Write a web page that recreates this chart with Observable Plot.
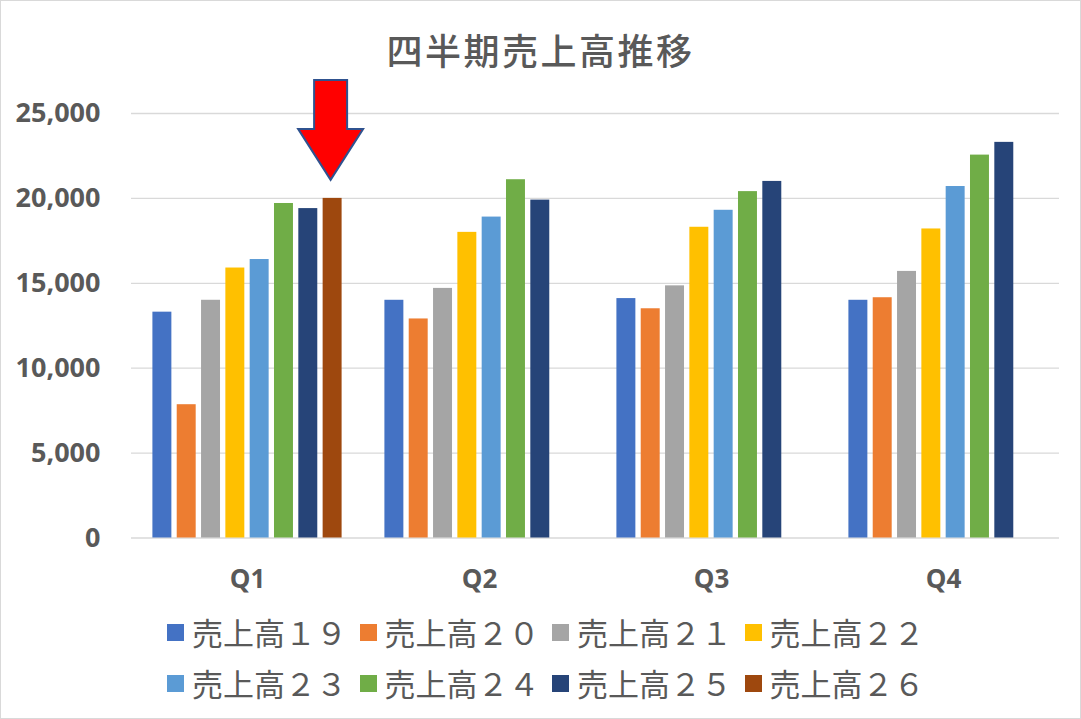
<!DOCTYPE html>
<html>
<head>
<meta charset="utf-8">
<script src="https://cdn.jsdelivr.net/npm/d3@7"></script>
<script src="https://cdn.jsdelivr.net/npm/@observablehq/plot@0.6"></script>
<style>
  html, body { margin: 0; padding: 0; background: #fff; }
  #wrap { position: relative; width: 1081px; height: 719px; background: #fff; overflow: hidden; }
  #frame { position: absolute; left: 0; top: 0; width: 1079px; height: 717px; border: 1px solid #d9d9d9; pointer-events: none; }
  #title { position: absolute; left: 0; top: 28px; width: 1081px; text-align: center;
           font-family: "Noto Sans CJK JP", sans-serif; font-size: 36px; line-height: 42px;
           color: #595959; letter-spacing: 2.5px; font-weight: 500; }
  #chart { position: absolute; left: 0; top: 70px; }
  .leg { position: absolute; display: flex; align-items: center; height: 40px;
         font-family: "Noto Sans CJK JP", sans-serif; font-size: 31px; line-height: 40px; color: #595959; white-space: nowrap; }
  .sw { width: 17px; height: 17px; margin-right: 8px; flex: none; }
</style>
</head>
<body>
<div id="wrap">
  <div id="title"></div>
  <div id="chart"></div>
  <div id="legend"></div>
  <div id="frame"></div>
</div>
<script>
const titleText = "四半期売上高推移";
const quarters = ["Q1", "Q2", "Q3", "Q4"];
const seriesNames = ["売上高１９", "売上高２０", "売上高２１", "売上高２２", "売上高２３", "売上高２４", "売上高２５", "売上高２６"];
const sales19 = [13300, 14000, 14100, 14000];
const sales20 = [7850, 12900, 13500, 14150];
const sales21 = [14000, 14700, 14850, 15700];
const sales22 = [15900, 18000, 18300, 18200];
const sales23 = [16400, 18900, 19300, 20700];
const sales24 = [19700, 21100, 20400, 22550];
const sales25 = [19400, 19900, 21000, 23300];
const sales26 = [20000, null, null, null];
const yTicks = [0, 5000, 10000, 15000, 20000, 25000];
const colors = ["#4472c4", "#ed7d31", "#a5a5a5", "#ffc000", "#5b9bd5", "#70ad47", "#264478", "#9e480e"];
// the highlighted bar (red arrow annotation)
const arrowQuarter = "Q1";
const arrowSeries = "売上高２６";

const seriesValues = [sales19, sales20, sales21, sales22, sales23, sales24, sales25, sales26];
const rows = [];
quarters.forEach((q, qi) => {
  seriesNames.forEach((s, si) => {
    const v = seriesValues[si][qi];
    if (v != null) rows.push({quarter: q, series: s, value: v});
  });
});
const arrowData = rows.filter(d => d.quarter === arrowQuarter && d.series === arrowSeries);

function drawArrow(index, scales, values, dimensions, context) {
  const g = d3.create("svg:g");
  const bw = typeof scales.x.bandwidth === "function" ? scales.x.bandwidth() : 19;
  for (const i of index) {
    const d = arrowData[i];
    const cx = scales.x(d.series) + bw / 2 - 1.5;
    const tip = scales.y(d.value) - 18;
    const headTop = tip - 51;
    const top = tip - 100;
    const hw = 32.5, sw = 16.5;
    const pts = [
      [cx - sw, top], [cx + sw, top], [cx + sw, headTop], [cx + hw, headTop],
      [cx, tip], [cx - hw, headTop], [cx - sw, headTop]
    ];
    g.append("path")
      .attr("d", "M" + pts.map(p => p.join(",")).join("L") + "Z")
      .attr("fill", "#ff0000")
      .attr("stroke", "#2f528f")
      .attr("stroke-width", 2);
  }
  return g.node();
}

document.getElementById("title").textContent = titleText;

const chart = Plot.plot({
  width: 1081,
  height: 530,
  marginTop: 43,
  marginBottom: 62.5,
  marginLeft: 131,
  marginRight: 22,
  fx: {domain: quarters, padding: 0, label: null},
  x: {domain: seriesNames, paddingInner: 0.22, paddingOuter: 0.88, round: false, axis: null},
  y: {domain: [0, 25000], axis: null},
  color: {domain: seriesNames, range: colors},
  style: {fontFamily: "'Open Sans', sans-serif", color: "#595959", background: "white", overflow: "visible"},
  marks: [
    Plot.gridY(yTicks, {stroke: "#d9d9d9", strokeOpacity: 1, strokeWidth: 1.3}),
    Plot.axisY(yTicks, {tickSize: 0, tickPadding: 31, tickFormat: d3.format(","), fontSize: 27, fontWeight: "bold", fill: "#595959", label: null}),
    Plot.axisFx({anchor: "bottom", tickSize: 0, tickPadding: 32, fontSize: 26, fontWeight: "bold", fill: "#595959", label: null}),
    Plot.barY(rows, {fx: "quarter", x: "series", y: "value", fill: "series"}),
    Plot.dot(arrowData, {fx: "quarter", x: "series", y: "value", render: drawArrow})
  ]
});
document.getElementById("chart").appendChild(chart);

const legend = document.getElementById("legend");
seriesNames.forEach((s, i) => {
  const col = i % 4, row = Math.floor(i / 4);
  const item = document.createElement("div");
  item.className = "leg";
  item.style.left = (167 + col * 192.5) + "px";
  item.style.top = (612 + row * 51) + "px";
  const sw = document.createElement("div");
  sw.className = "sw";
  sw.style.background = colors[i];
  const tx = document.createElement("span");
  tx.textContent = s;
  item.appendChild(sw);
  item.appendChild(tx);
  legend.appendChild(item);
});
</script>
</body>
</html>
